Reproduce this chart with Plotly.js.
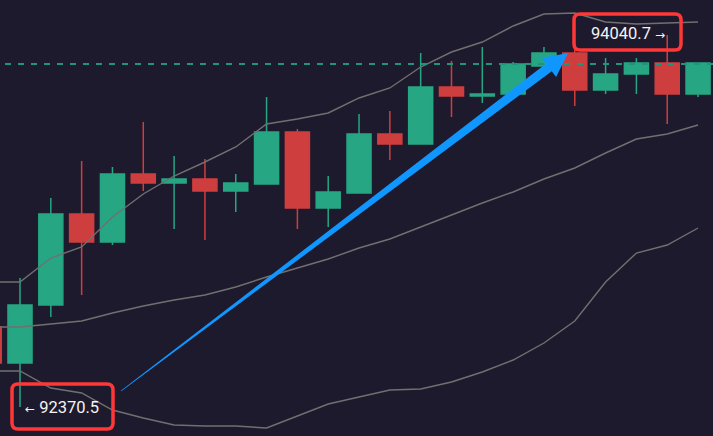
<!DOCTYPE html>
<html><head><meta charset="utf-8">
<script src="https://cdn.plot.ly/plotly-3.0.1.min.js"></script>
<style>html,body{margin:0;padding:0;background:#1e1a2d;}#chart{width:713px;height:436px;}</style>
</head><body><div id="chart"></div>
<script>
const idx   = [0,1,2,3,4,5,6,7,8,9,10,11,12,13,14,15,16,17,18,19,20,21,22,23];
const open  = [92729.7,92568.1,92828.5,93237.0,93111.3,93416.6,93376.2,93394.2,93340.3,93371.7,93605.2,93264.0,93331.3,93596.2,93551.3,93807.2,93766.8,93775.8,93901.5,93959.9,93793.8,93865.6,93915.0,93775.8];
const high  = [92752.1,92949.7,93308.9,93475.0,93448.1,93650.1,93497.4,93484.0,93416.6,93762.3,93618.7,93407.6,93686.0,93699.5,93959.9,93924.0,93986.8,93919.5,93986.8,93973.4,93937.4,93937.4,94040.7,93915.0];
const low   = [92554.6,92370.5,92774.6,92873.4,93097.9,93340.3,93169.7,93120.3,93246.0,93371.7,93169.7,93178.7,93331.3,93479.5,93551.3,93672.5,93735.4,93775.8,93901.5,93721.9,93775.8,93775.8,93641.1,93762.3];
const close = [92568.1,92828.5,93237.0,93111.3,93416.6,93376.2,93394.2,93340.3,93376.2,93605.2,93264.0,93335.8,93596.2,93551.3,93807.2,93766.8,93775.8,93910.5,93959.9,93793.8,93865.6,93915.0,93775.8,93915.0];
const upper  = [92931.7,92931.7,93039.5,93088.9,93223.6,93326.8,93407.6,93470.5,93537.9,93641.1,93663.6,93690.5,93757.9,93802.8,93897.0,93964.4,94009.3,94081.1,94135.0,94139.5,94099.1,94090.1,94094.6,94099.1];
const middle = [92729.7,92729.7,92743.2,92756.6,92792.5,92824.0,92850.9,92873.4,92909.3,92954.2,92994.6,93035.0,93084.4,93124.8,93178.7,93232.5,93286.4,93335.8,93394.2,93443.6,93510.9,93573.8,93596.2,93636.6];
const lower  = [92532.1,92532.1,92455.8,92433.4,92357.0,92321.1,92289.7,92285.2,92285.2,92276.2,92330.1,92384.0,92415.4,92446.8,92451.3,92482.8,92527.6,92581.5,92657.9,92756.6,92931.7,93061.9,93097.9,93174.2];
const lastPrice = 93910.5;

const W = 713, H = 436;
const px = x => x / W;
const py = y => 1 - y / H;
function rr(x0, y0, x1, y1, r) {
  const P = (x, y) => px(x).toFixed(5) + ',' + py(y).toFixed(5);
  return 'M' + P(x0 + r, y0) + ' L' + P(x1 - r, y0) + ' Q' + P(x1, y0) + ' ' + P(x1, y0 + r) +
    ' L' + P(x1, y1 - r) + ' Q' + P(x1, y1) + ' ' + P(x1 - r, y1) +
    ' L' + P(x0 + r, y1) + ' Q' + P(x0, y1) + ' ' + P(x0, y1 - r) +
    ' L' + P(x0, y0 + r) + ' Q' + P(x0, y0) + ' ' + P(x0 + r, y0) + ' Z';
}
function arrowPath(tx, ty, hx, hy) {
  const dx = hx - tx, dy = hy - ty, len = Math.hypot(dx, dy);
  const ux = dx / len, uy = dy / len, nx = -uy, ny = ux;
  const L = 24, hw = 12, sw = 4.8, tw = 0.4;
  const bx = hx - L * ux, by = hy - L * uy;
  const pts = [
    [tx + tw * nx, ty + tw * ny], [bx + sw * nx, by + sw * ny], [bx + hw * nx, by + hw * ny],
    [hx, hy], [bx - hw * nx, by - hw * ny], [bx - sw * nx, by - sw * ny], [tx - tw * nx, ty - tw * ny]
  ];
  return 'M' + pts.map(p => px(p[0]).toFixed(5) + ',' + py(p[1]).toFixed(5)).join(' L') + ' Z';
}

const green = '#26a683', red = '#cf3e3e', band = '#707070';
const traces = [
  {type: 'candlestick', x: idx, open: open, high: high, low: low, close: close,
   increasing: {line: {color: green, width: 1.5}, fillcolor: green},
   decreasing: {line: {color: red, width: 1.5}, fillcolor: red},
   hoverinfo: 'skip', showlegend: false},
  {type: 'scatter', mode: 'lines', x: idx, y: upper, line: {color: band, width: 1.4}, hoverinfo: 'skip', showlegend: false},
  {type: 'scatter', mode: 'lines', x: idx, y: middle, line: {color: band, width: 1.4}, hoverinfo: 'skip', showlegend: false},
  {type: 'scatter', mode: 'lines', x: idx, y: lower, line: {color: band, width: 1.4}, hoverinfo: 'skip', showlegend: false}
];

const lowVal = Math.min(...low).toFixed(1);
const highVal = Math.max(...high).toFixed(1);

const layout = {
  width: W, height: H,
  margin: {l: 0, r: 0, t: 0, b: 0, pad: 0},
  paper_bgcolor: '#1e1a2d', plot_bgcolor: '#1e1a2d',
  showlegend: false,
  boxgap: 0.22, boxgroupgap: 0,
  xaxis: {range: [0.351, 23.485], visible: false, showgrid: false, zeroline: false, rangeslider: {visible: false}, fixedrange: true},
  yaxis: {range: [92240.3, 94197.85], visible: false, showgrid: false, zeroline: false, fixedrange: true},
  shapes: [
    {type: 'line', xref: 'paper', yref: 'y', x0: 5 / W, x1: 1, y0: lastPrice, y1: lastPrice,
     line: {color: '#22937c', width: 2, dash: '6px,7px'}, layer: 'above'},
    {type: 'path', xref: 'paper', yref: 'paper', path: arrowPath(121, 391, 568, 53),
     fillcolor: '#0f97ff', line: {width: 0}, layer: 'above'},
    {type: 'path', xref: 'paper', yref: 'paper', path: rr(12, 384, 113, 429, 6),
     line: {color: '#ff3737', width: 3.5}, fillcolor: 'rgba(0,0,0,0)', layer: 'above'},
    {type: 'path', xref: 'paper', yref: 'paper', path: rr(574, 14, 681, 50, 6),
     line: {color: '#ff3737', width: 3.5}, fillcolor: 'rgba(0,0,0,0)', layer: 'above'}
  ],
  annotations: [
    {xref: 'paper', yref: 'paper', x: px(62), y: py(407), xanchor: 'center', yanchor: 'middle', showarrow: false,
     text: '<span style="font-size:12px;font-family:DejaVu Sans">←</span> ' + lowVal,
     font: {family: 'Roboto, Arial, sans-serif', size: 16.5, color: '#f4f4f4'}},
    {xref: 'paper', yref: 'paper', x: px(628), y: py(33), xanchor: 'center', yanchor: 'middle', showarrow: false,
     text: highVal + ' <span style="font-size:12px;font-family:DejaVu Sans">→</span>',
     font: {family: 'Roboto, Arial, sans-serif', size: 16.5, color: '#f4f4f4'}}
  ]
};

Plotly.newPlot('chart', traces, layout, {staticPlot: true, displayModeBar: false});
</script>
</body></html>
